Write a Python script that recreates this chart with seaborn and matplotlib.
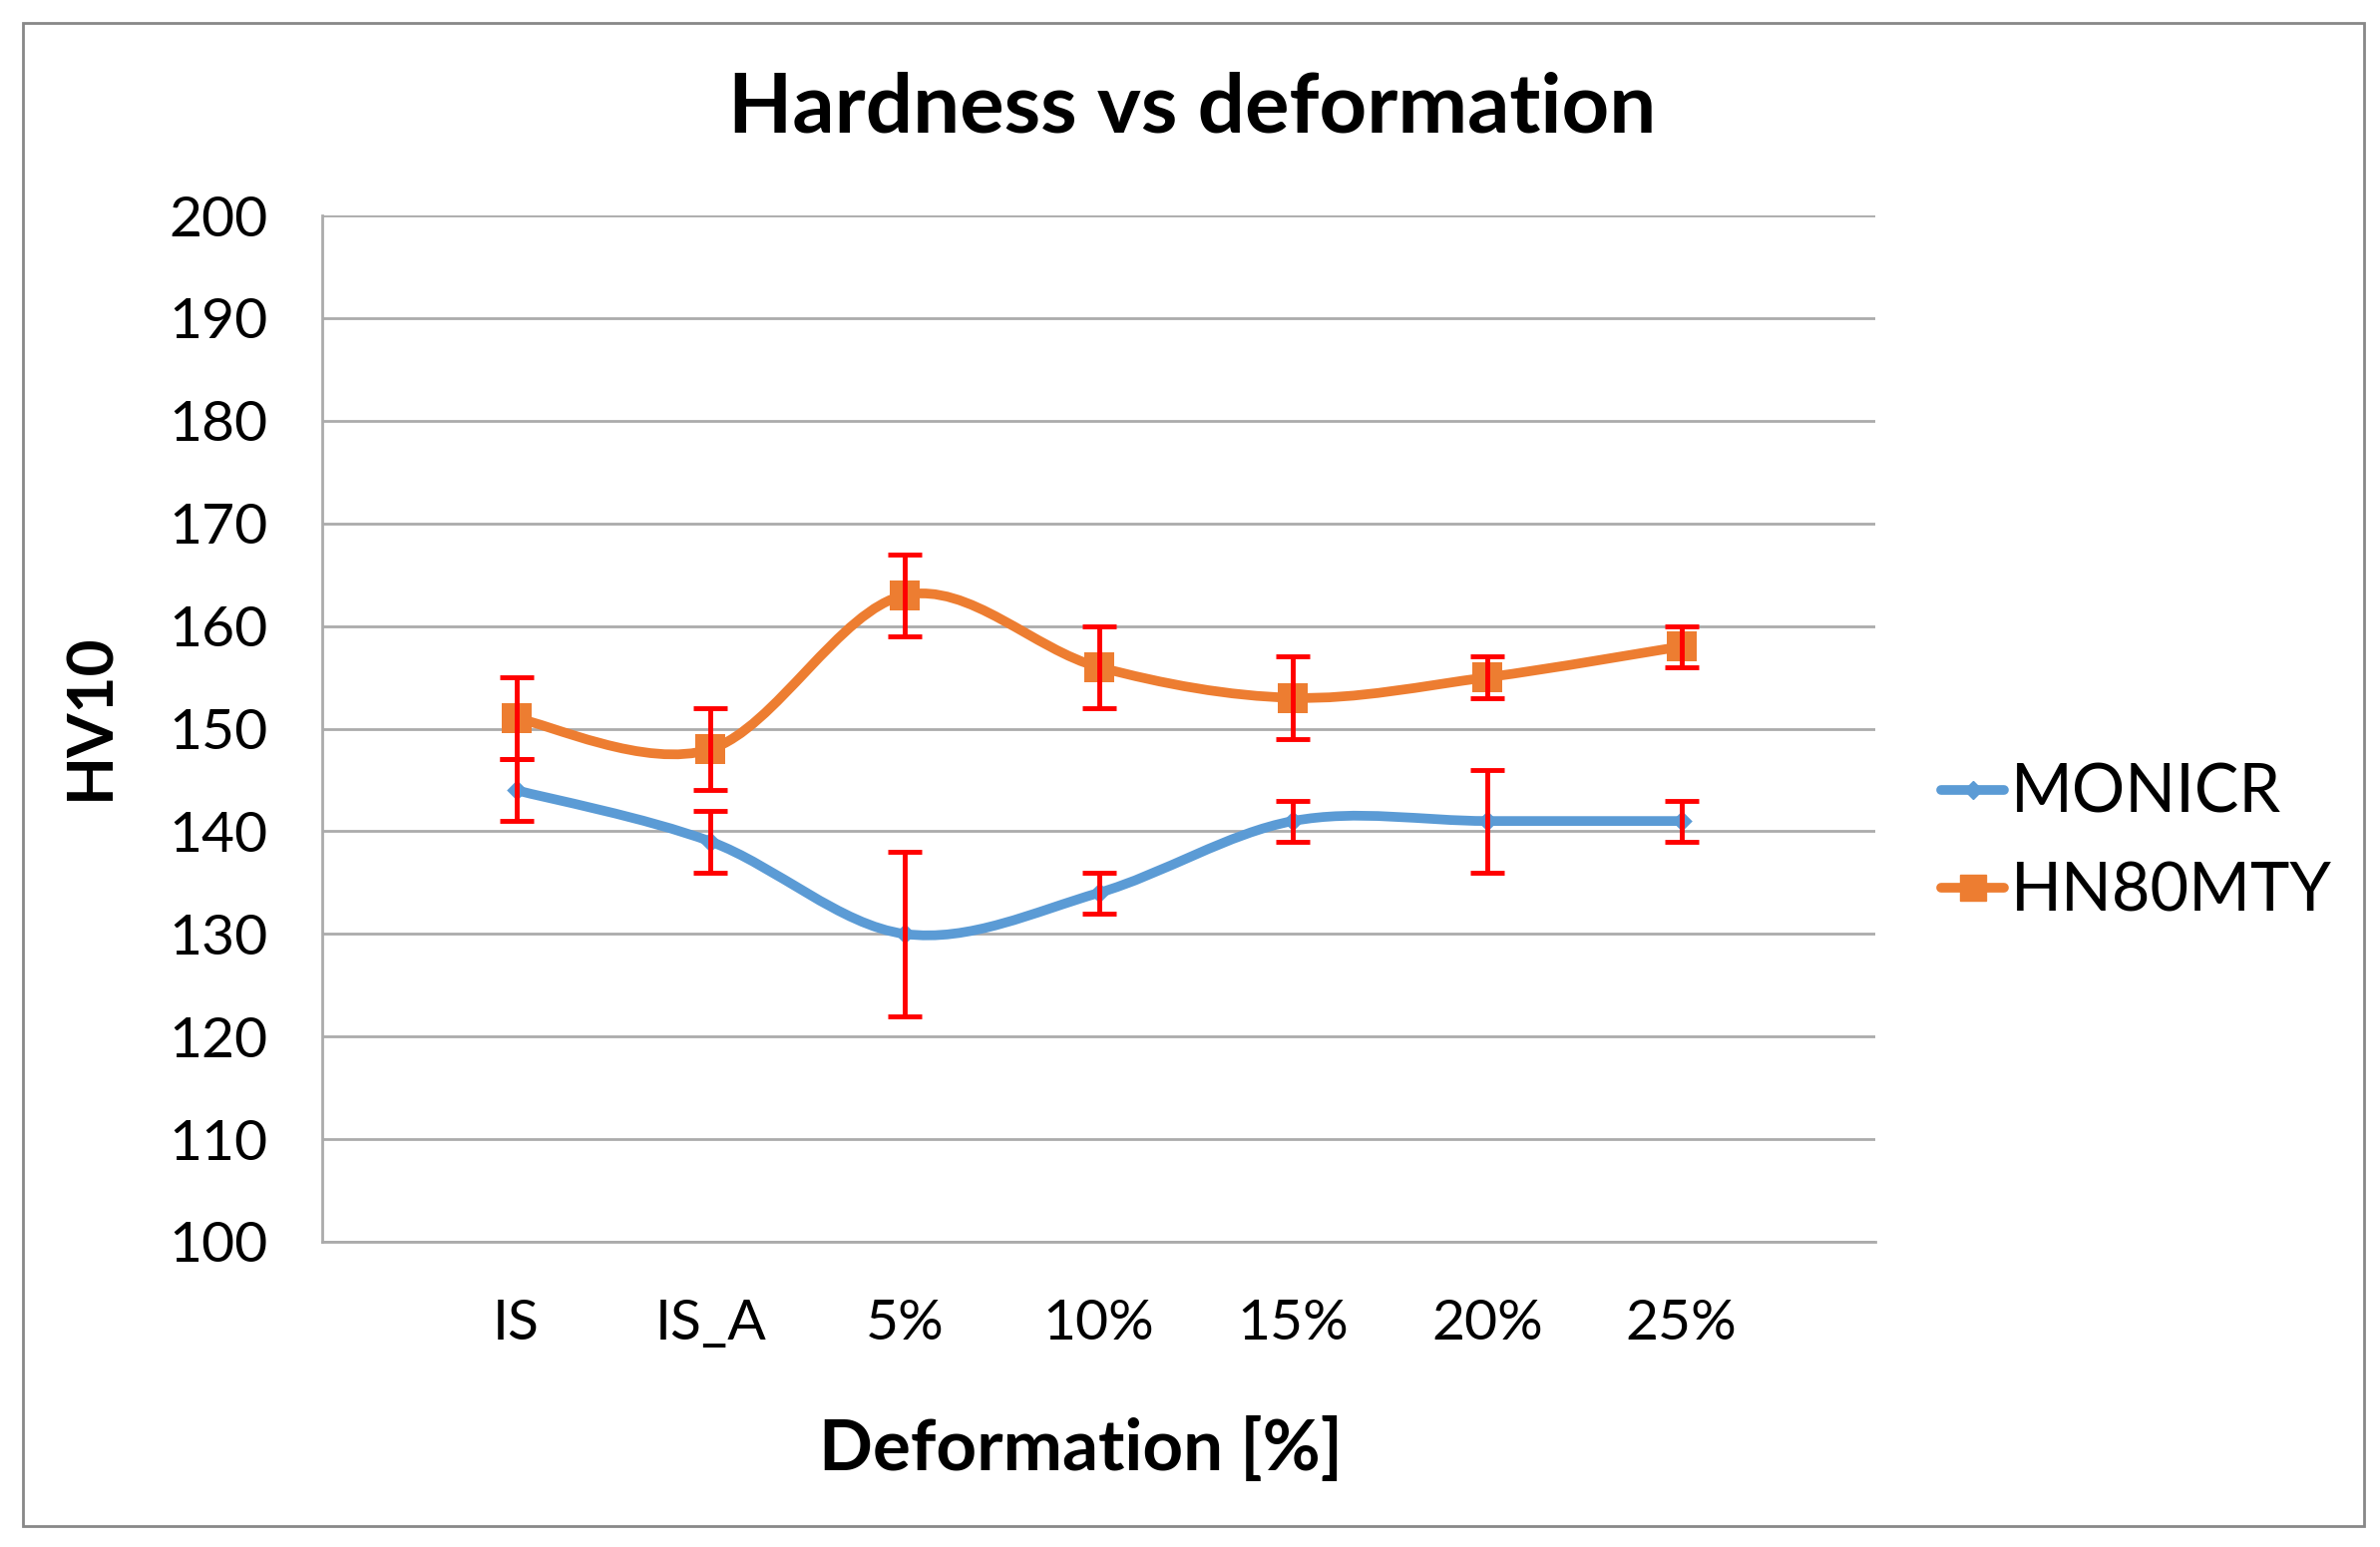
import numpy as np
import seaborn as sns
import matplotlib.pyplot as plt
from matplotlib.path import Path
from matplotlib.patches import PathPatch, Rectangle
from matplotlib.lines import Line2D

# %% data
categories = ['IS', 'IS_A', '5%', '10%', '15%', '20%', '25%']
monicr = [144, 139, 130, 134, 141, 141, 141]
monicr_err = [3, 3, 8, 2, 2, 5, 2]
hn80mty = [151, 148, 163, 156, 153, 155, 158]
hn80mty_err = [4, 4, 4, 4, 4, 2, 2]
yticks = list(range(100, 201, 10))

blue = '#5B9BD5'
orange = '#ED7D31'
grid_col = '#ABABAB'

sns.set_theme(style='white')
plt.rcParams['font.family'] = ['Lato', 'DejaVu Sans']
plt.rcParams['text.color'] = 'black'


def smooth_path(xs, ys):
    # excel-style smoothed line: cubic bezier through every point
    pts = np.column_stack([xs, ys]).astype(float)
    n = len(pts)
    verts = [pts[0]]
    codes = [Path.MOVETO]
    for i in range(n - 1):
        p_prev = pts[max(i - 1, 0)]
        p_next2 = pts[min(i + 2, n - 1)]
        c1 = pts[i] + (pts[i + 1] - p_prev) / 6
        c2 = pts[i + 1] - (p_next2 - pts[i]) / 6
        verts += [c1, c2, pts[i + 1]]
        codes += [Path.CURVE4] * 3
    return Path(verts, codes)


fig = plt.figure(figsize=(23.86, 15.51), dpi=100)
ax = fig.add_axes([0.1354, 0.1973, 0.788 - 0.1354, 0.8607 - 0.1973])

x = np.arange(len(categories))

for vals, errs, col, mk, ms in [(monicr, monicr_err, blue, 'D', 110),
                                (hn80mty, hn80mty_err, orange, 's', 480)]:
    ax.add_patch(PathPatch(smooth_path(x, vals), facecolor='none',
                           edgecolor=col, lw=7, zorder=3,
                           capstyle='round'))
    sns.scatterplot(x=x, y=vals, marker=mk, s=ms, color=col,
                    edgecolor=col, linewidth=0, zorder=4, ax=ax)
    ax.errorbar(x, vals, yerr=errs, fmt='none', ecolor='#FF0000',
                elinewidth=3.5, capsize=12, capthick=3.5, zorder=5)

ax.set_xlim(-1, len(categories))
ax.set_ylim(100, 200)
ax.set_yticks(yticks)
ax.set_xticks(np.arange(-1, len(categories) + 1))
ax.set_xticklabels([''] + categories + [''])
ax.yaxis.grid(True, color=grid_col, lw=2)
ax.set_axisbelow(True)
for s in ['top', 'right']:
    ax.spines[s].set_visible(False)
for s in ['left', 'bottom']:
    ax.spines[s].set_color(grid_col)
    ax.spines[s].set_linewidth(2)
ax.tick_params(axis='both', which='major', direction='out', length=13,
               width=2, color=grid_col, labelsize=41, pad=26,
               labelcolor='black')
ax.tick_params(axis='x', pad=28)

fig.text(0.5008, 0.930, 'Hardness vs deformation', ha='center',
         va='center', fontsize=60, fontweight='bold', color='black')
fig.text(0.038, 0.537, 'HV10', ha='center', va='center', rotation=90,
         fontsize=46, fontweight='bold', color='black')
fig.text(0.4543, 0.0632, 'Deformation [%]', ha='center', va='center',
         fontsize=51, fontweight='bold', color='black')

handles = [Line2D([], [], color=blue, lw=7, marker='D', markersize=9),
           Line2D([], [], color=orange, lw=7, marker='s', markersize=19)]
leg = fig.legend(handles, ['MONICR', 'HN80MTY'], loc='center left',
                 bbox_to_anchor=(0.8156, 0.455), frameon=False, fontsize=48,
                 handlelength=0.95, handletextpad=0.1, labelspacing=0.55,
                 borderpad=0, borderaxespad=0)
for t in leg.get_texts():
    t.set_color('black')

fig.add_artist(Rectangle((23 / 2386, 1 - 1530 / 1551),
                         (2370 - 23) / 2386, (1530 - 23) / 1551,
                         transform=fig.transFigure, fill=False,
                         edgecolor='#888888', lw=2))

fig.savefig('out.png', dpi=100)
